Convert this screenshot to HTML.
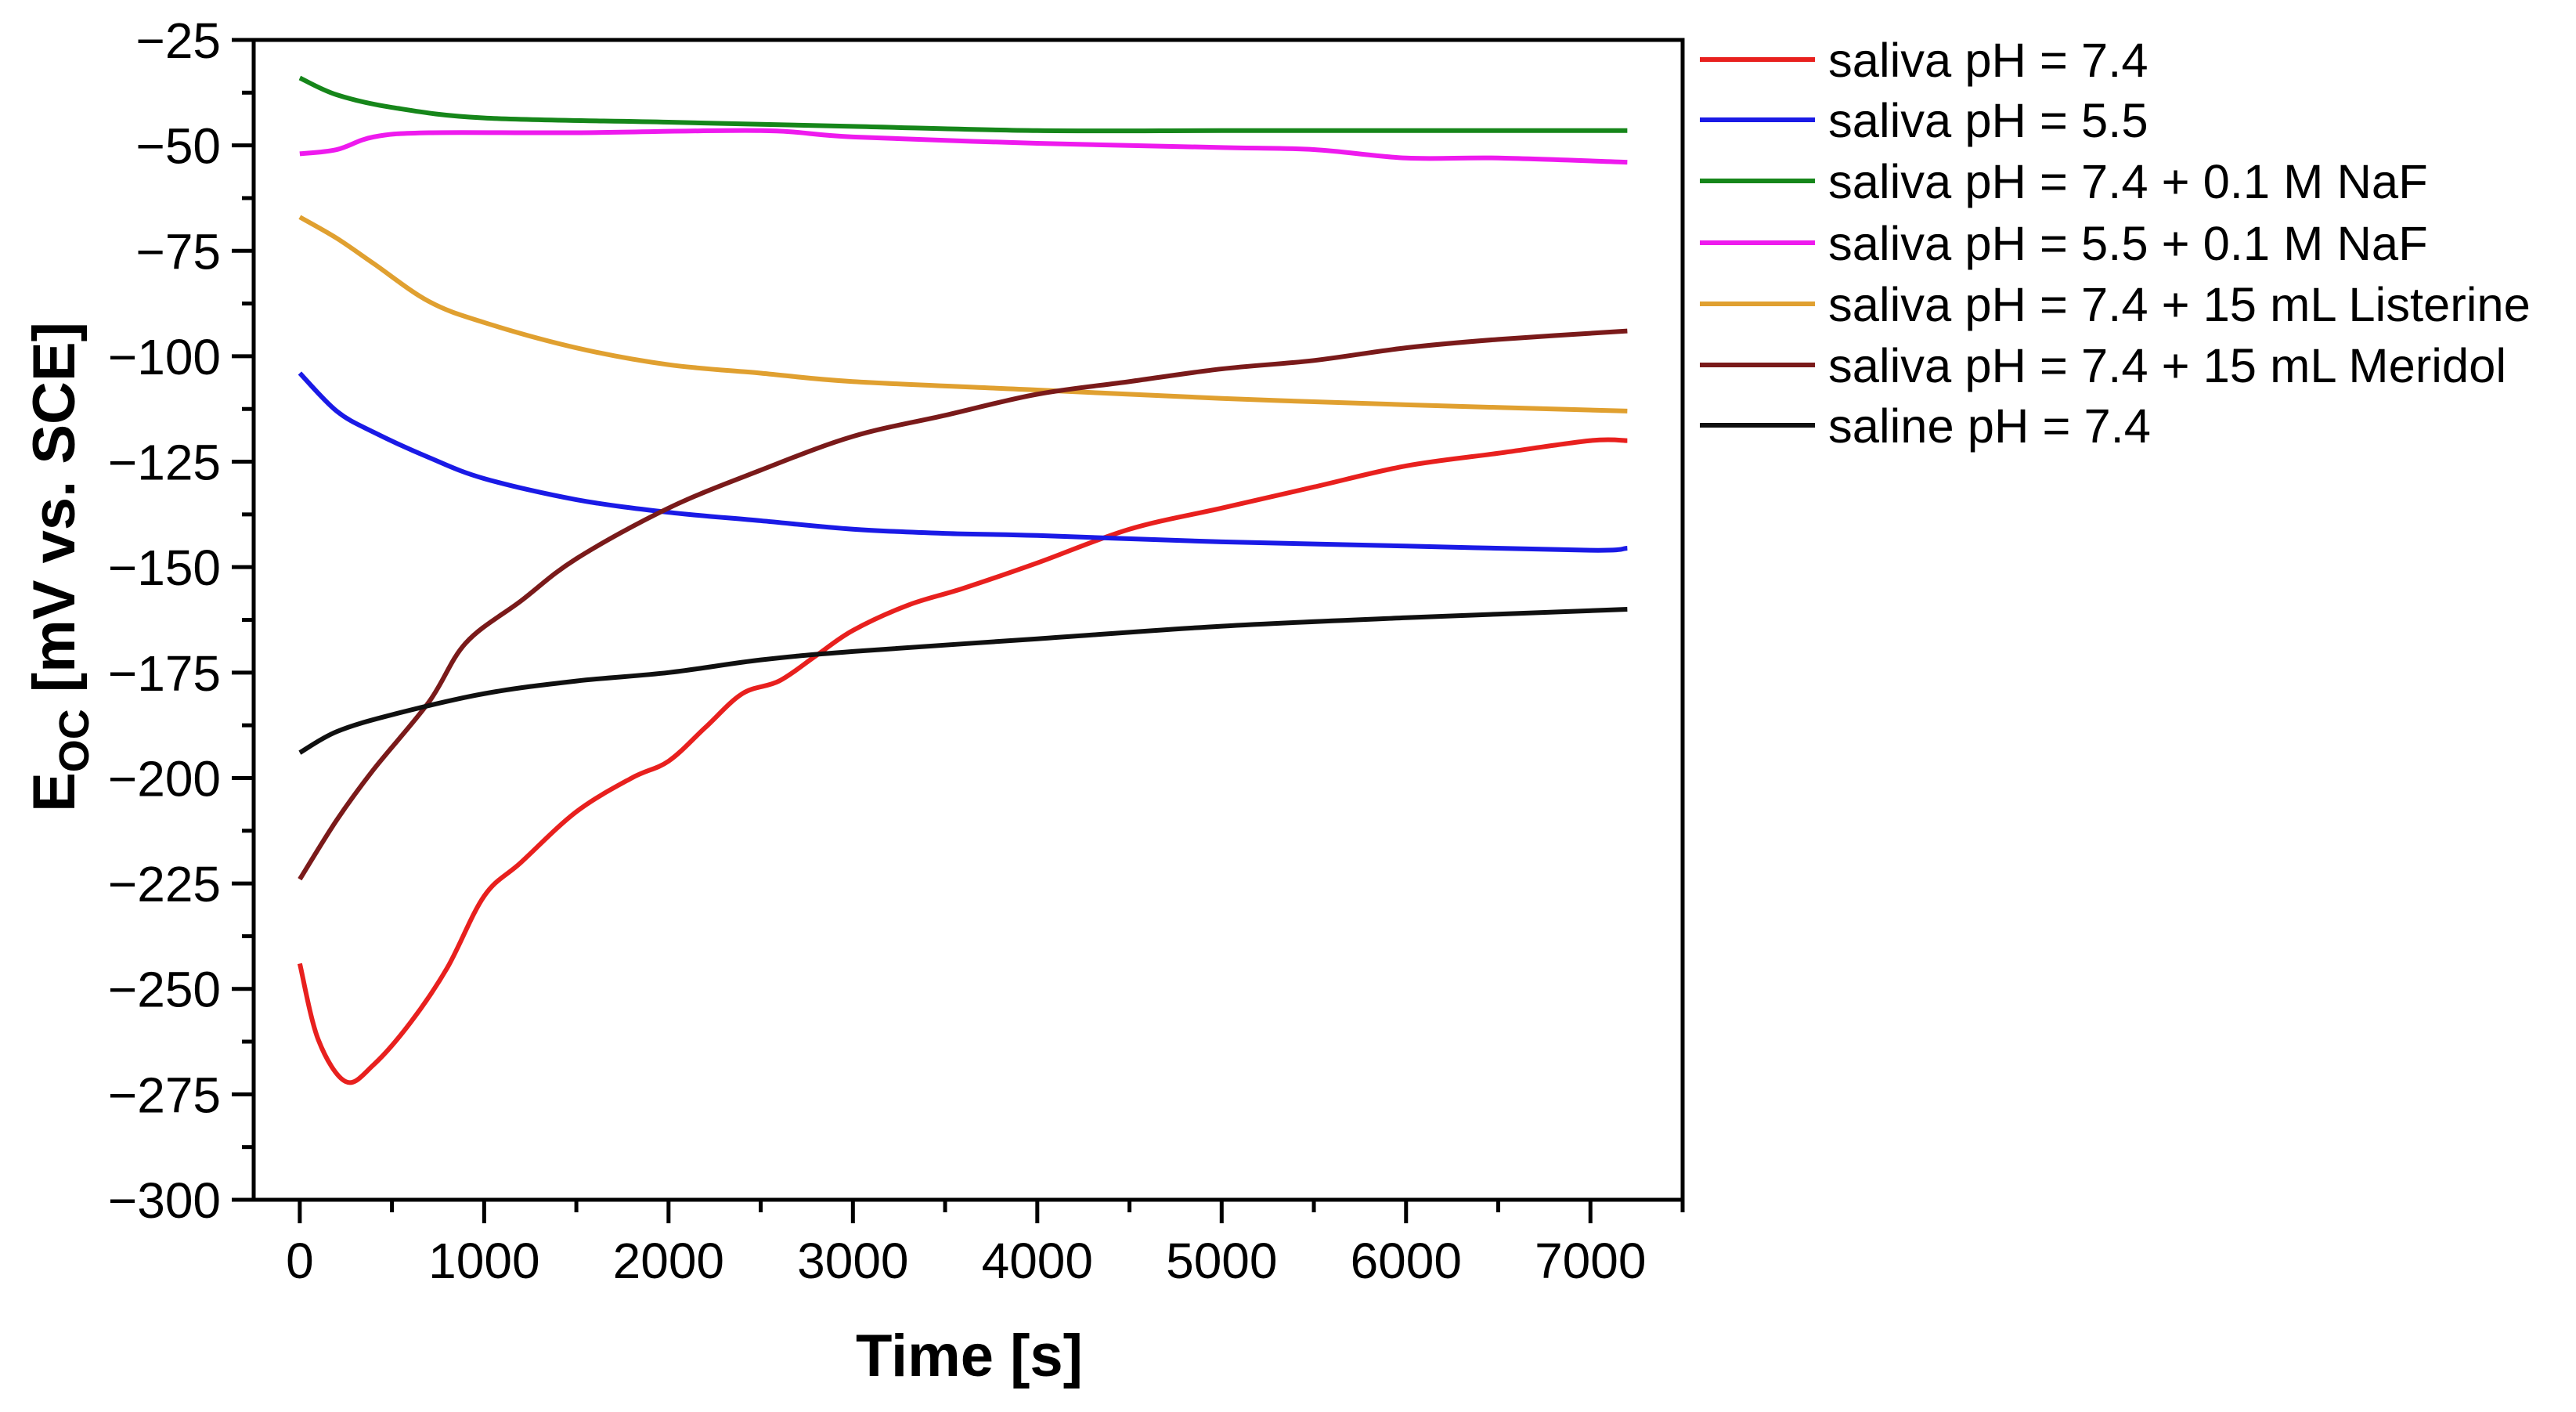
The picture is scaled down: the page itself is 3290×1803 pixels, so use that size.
<!DOCTYPE html>
<html><head><meta charset="utf-8"><style>
html,body{margin:0;padding:0;background:#fff;}
svg{display:block;font-family:"Liberation Sans",Arial,sans-serif;}
</style></head><body>
<svg id="chart" width="3290" height="1803" viewBox="0 0 3290 1803" xmlns="http://www.w3.org/2000/svg">
<g id="axes"></g>
<g id="series"></g>
<g id="legend"></g>
<text x="1238" y="1757" font-size="76" font-weight="bold" text-anchor="middle">Time [s]</text>
<text transform="translate(95,724) rotate(-90)" font-size="76" font-weight="bold" text-anchor="middle">E<tspan font-size="54" dy="18">OC</tspan><tspan dy="-18"> [mV vs. SCE]</tspan></text>
</svg>
<script>
const xTicks=[0,1000,2000,3000,4000,5000,6000,7000];
const yTicks=[-25,-50,-75,-100,-125,-150,-175,-200,-225,-250,-275,-300];
const seriesNames=["saliva pH = 7.4","saliva pH = 5.5","saliva pH = 7.4 + 0.1 M NaF","saliva pH = 5.5 + 0.1 M NaF","saliva pH = 7.4 + 15 mL Listerine","saliva pH = 7.4 + 15 mL Meridol","saline pH = 7.4"];
const seriesColors=["#e8201e","#1a1ae6","#16861a","#ee1aee","#e0a030","#7a1a1a","#101010"];
const tRed=[0,100,250,400,600,800,1000,1200,1500,1800,2000,2200,2400,2600,2800,3000,3300,3600,4000,4500,5000,5500,6000,6500,7000,7200];
const vRed=[-244,-262,-272,-268,-258,-245,-228,-220,-208,-200,-196,-188,-180,-177,-171,-165,-159,-155,-149,-141,-136,-131,-126,-123,-120,-120];
const tBlue=[0,200,400,700,1000,1500,2000,2500,3000,3500,4000,5000,6000,7000,7200];
const vBlue=[-104,-113,-118,-124,-129,-134,-137,-139,-141,-142,-142.5,-144,-145,-146,-145.5];
const tGreen=[0,200,500,1000,2000,3000,4000,5000,6000,7200];
const vGreen=[-34,-38,-41,-43.5,-44.5,-45.5,-46.5,-46.5,-46.5,-46.5];
const tMag=[0,200,400,700,1500,2500,3000,4000,5000,5500,6000,6500,7200];
const vMag=[-52,-51,-48,-47,-47,-46.5,-48,-49.5,-50.5,-51,-53,-53,-54];
const tOrange=[0,200,400,700,1000,1500,2000,2500,3000,4000,5000,6000,7200];
const vOrange=[-67,-72,-78,-87,-92,-98,-102,-104,-106,-108,-110,-111.5,-113];
const tMeridol=[0,200,400,700,900,1200,1500,2000,2500,3000,3500,4000,4500,5000,5500,6000,6500,7200];
const vMeridol=[-224,-210,-198,-182,-168,-158,-148,-136,-127,-119,-114,-109,-106,-103,-101,-98,-96,-94];
const tSaline=[0,200,500,1000,1500,2000,2500,3000,4000,5000,6000,7200];
const vSaline=[-194,-189,-185,-180,-177,-175,-172,-170,-167,-164,-162,-160];
const allT=[tRed,tBlue,tGreen,tMag,tOrange,tMeridol,tSaline];
const allV=[vRed,vBlue,vGreen,vMag,vOrange,vMeridol,vSaline];
const NS="http://www.w3.org/2000/svg";
const X0=324,X1=2149,Y0=51,Y1=1532;
const xmin=-250,xmax=7500,ymax=-25,ymin=-300;
function sx(t){return X0+(t-xmin)/(xmax-xmin)*(X1-X0);}
function sy(v){return Y0+(ymax-v)/(ymax-ymin)*(Y1-Y0);}
function mk(tag,attrs,parent){const e=document.createElementNS(NS,tag);for(const k in attrs)e.setAttribute(k,attrs[k]);parent.appendChild(e);return e;}
const axes=document.getElementById('axes');
let f=mk('rect',{x:X0,y:Y0,width:X1-X0,height:Y1-Y0,fill:'none',stroke:'#000','stroke-width':5},axes);


yTicks.forEach(v=>{
  const y=sy(v);
  let l=mk('line',{x1:X0-28,x2:X0,y1:y,y2:y,stroke:'#000','stroke-width':5},axes);
  
  
  if(v>ymin){
    let m=mk('line',{x1:X0-15,x2:X0,y1:sy(v-12.5),y2:sy(v-12.5),stroke:'#000','stroke-width':5},axes);
    
    
  }
  let t=mk('text',{x:282,y:y+23,'font-size':64,'text-anchor':'end'},axes);
  t.textContent='\u2212'+Math.abs(v);
  
  
});
xTicks.forEach(v=>{
  const x=sx(v);
  let l=mk('line',{x1:x,x2:x,y1:Y1,y2:Y1+30,stroke:'#000','stroke-width':5},axes);
  
  
  let m=mk('line',{x1:sx(v+500),x2:sx(v+500),y1:Y1,y2:Y1+16,stroke:'#000','stroke-width':5},axes);
  
  
  let t=mk('text',{x:x,y:1632,'font-size':64,'text-anchor':'middle'},axes);
  t.textContent=String(v);
  
  
});
const sg=document.getElementById('series');
const lg=document.getElementById('legend');
const legY=[76,153,231,310,388,466,543];
allT.forEach((ts,i)=>{
  const vs=allV[i];
  const pts=ts.map((t,j)=>[sx(t),sy(vs[j])]);
  let d='M'+pts[0][0]+','+pts[0][1];
  for(let j=0;j<pts.length-1;j++){
    const p0=pts[Math.max(j-1,0)],p1=pts[j],p2=pts[j+1],p3=pts[Math.min(j+2,pts.length-1)];
    const c1=[p1[0]+(p2[0]-p0[0])/6,p1[1]+(p2[1]-p0[1])/6],c2=[p2[0]-(p3[0]-p1[0])/6,p2[1]-(p3[1]-p1[1])/6];
    d+=' C'+c1[0]+','+c1[1]+' '+c2[0]+','+c2[1]+' '+p2[0]+','+p2[1];
  }
  let p=mk('path',{d:d,fill:'none',stroke:seriesColors[i],'stroke-width':6,'stroke-linejoin':'round'},sg);
  
  
  let ll=mk('line',{x1:2171,x2:2318,y1:legY[i],y2:legY[i],stroke:seriesColors[i],'stroke-width':6},lg);
  
  
  let lt=mk('text',{x:2335,y:legY[i]+22,'font-size':61.5},lg);
  lt.textContent=seriesNames[i];
  
  
});
</script>
</body></html>
